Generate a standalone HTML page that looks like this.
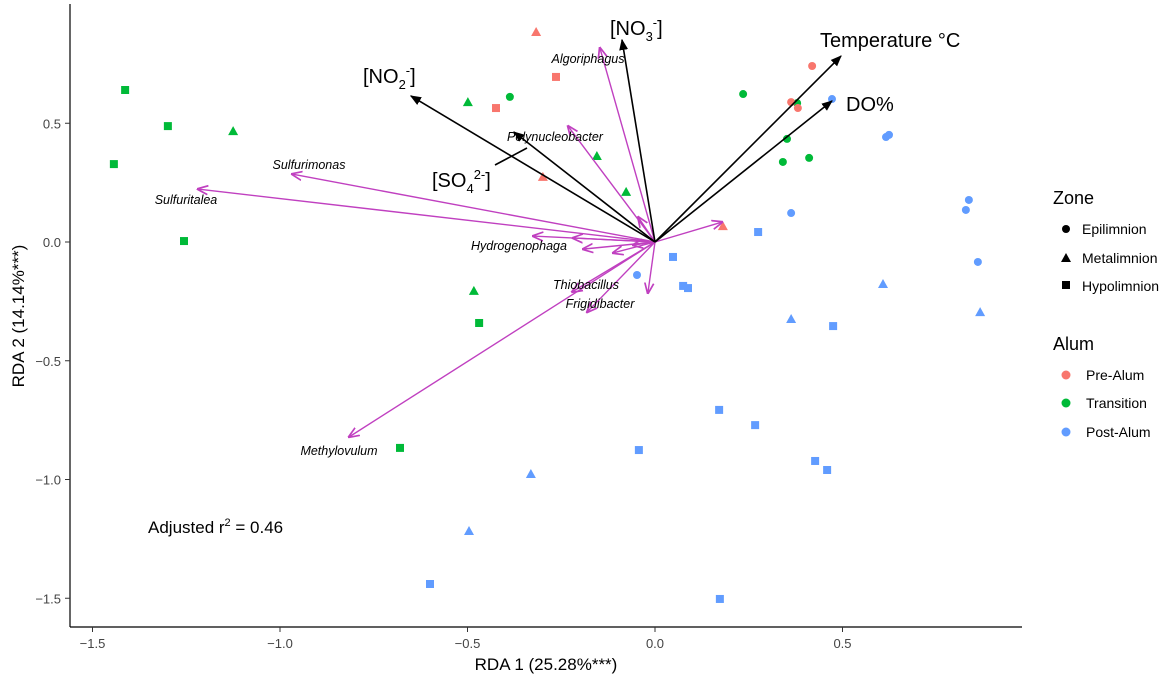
<!DOCTYPE html>
<html><head><meta charset="utf-8"><style>
body{margin:0;background:#fff;}
svg{display:block;font-family:"Liberation Sans",Arial,sans-serif;}
</style></head><body>
<svg id="chart" width="1169" height="682">
<defs>
<marker id="ab" viewBox="0 0 10 10" refX="9" refY="5" markerWidth="7" markerHeight="7" orient="auto"><path d="M0,1 L10,5 L0,9 z" fill="#000"/></marker>
<marker id="am" viewBox="0 0 10 10" refX="9" refY="5" markerWidth="8" markerHeight="8" orient="auto"><path d="M0,1 L10,5 L0,9" fill="none" stroke="#c040c0" stroke-width="1.5"/></marker>
</defs>
<g id="axes"></g>
<g id="marks"></g>
<text x="546" y="670" font-size="17" text-anchor="middle">RDA 1 (25.28%***)</text>
<text transform="translate(24,316) rotate(-90)" font-size="17" text-anchor="middle">RDA 2 (14.14%***)</text>
<text x="148" y="533" font-size="17">Adjusted r<tspan font-size="11" dy="-7">2</tspan><tspan dy="7"> = 0.46</tspan></text>
<g>
<text x="1053" y="204" font-size="18">Zone</text>
<circle cx="1066" cy="229" r="4" fill="#000"/>
<text x="1082" y="234" font-size="14">Epilimnion</text>
<path d="M1061,262 L1071,262 L1066,253 z" fill="#000"/>
<text x="1082" y="263" font-size="14">Metalimnion</text>
<rect x="1062" y="281" width="8" height="8" fill="#000"/>
<text x="1082" y="291" font-size="14">Hypolimnion</text>
</g>
<g>
<text x="1053" y="350" font-size="18">Alum</text>
<circle cx="1066" cy="375" r="4.5" fill="#F8766D"/>
<text x="1086" y="380" font-size="14">Pre-Alum</text>
<circle cx="1066" cy="403" r="4.5" fill="#00BA38"/>
<text x="1086" y="408" font-size="14">Transition</text>
<circle cx="1066" cy="432" r="4.5" fill="#619CFF"/>
<text x="1086" y="437" font-size="14">Post-Alum</text>
</g>
</svg>
<script>
const xTicks=[-1.5,-1.0,-0.5,0.0,0.5];
const yTicks=[0.5,0.0,-0.5,-1.0,-1.5];
const xTickLabels=["−1.5","−1.0","−0.5","0.0","0.5"];
const yTickLabels=["0.5","0.0","−0.5","−1.0","−1.5"];
const sampleX=[-1.413,-1.299,-1.125,-1.443,-1.256,-0.499,-0.387,-0.155,-0.077,-0.483,-0.469,-0.680,0.235,0.379,0.352,0.341,0.411,
 -0.317,-0.264,-0.424,-0.299,0.181,0.419,0.363,0.381,
 0.472,0.616,0.624,0.837,0.829,0.861,0.363,-0.048,0.275,0.048,0.075,0.088,0.363,0.475,0.608,0.867,0.171,0.267,-0.043,0.427,0.459,-0.331,-0.496,-0.600,0.173];
const sampleY=[0.640,0.488,0.467,0.328,0.004,0.589,0.611,0.362,0.211,-0.206,-0.341,-0.867,0.623,0.585,0.434,0.337,0.354,
 0.884,0.695,0.564,0.274,0.067,0.741,0.589,0.564,
 0.602,0.442,0.451,0.177,0.135,-0.084,0.122,-0.139,0.042,-0.063,-0.185,-0.194,-0.324,-0.354,-0.177,-0.295,-0.707,-0.771,-0.876,-0.922,-0.960,-0.977,-1.217,-1.440,-1.503];
const sampleZone=["H","H","M","H","H","M","E","M","M","M","H","H","E","E","E","E","E",
 "M","H","H","M","M","E","E","E",
 "E","E","E","E","E","E","E","E","H","H","H","H","M","H","M","M","H","H","H","H","H","M","M","H","H"];
const sampleAlum=["T","T","T","T","T","T","T","T","T","T","T","T","T","T","T","T","T",
 "P","P","P","P","P","P","P","P",
 "A","A","A","A","A","A","A","A","A","A","A","A","A","A","A","A","A","A","A","A","A","A","A","A","A"];
const envNames=["NO3","Temperature","DO","NO2","SO4"];
const envX=[-0.088,0.496,0.472,-0.651,-0.376];
const envY=[0.851,0.783,0.594,0.615,0.463];
const taxaX=[-0.968,-1.219,-0.816,-0.147,-0.232,-0.045,0.179,-0.325,-0.219,-0.192,-0.112,-0.059,-0.019,-0.181,-0.221];
const taxaY=[0.286,0.223,-0.821,0.817,0.488,0.105,0.084,0.025,0.017,-0.030,-0.046,-0.013,-0.215,-0.295,-0.210];

const sx=v=>655+v*375, sy=v=>242-v*237.5;
const NS="http://www.w3.org/2000/svg";
const axes=document.getElementById('axes'), marks=document.getElementById('marks');
function mk(tag,attrs,parent){const e=document.createElementNS(NS,tag);for(const k in attrs)e.setAttribute(k,attrs[k]);parent.appendChild(e);return e;}
let l=mk('line',{x1:70,y1:4,x2:70,y2:627,stroke:'#000','stroke-width':1.2},axes);


l=mk('line',{x1:70,y1:627,x2:1022,y2:627,stroke:'#000','stroke-width':1.2},axes);


xTicks.forEach((v,i)=>{const t=mk('line',{x1:sx(v),x2:sx(v),y1:627,y2:632,stroke:'#333'},axes);


const tx=mk('text',{x:sx(v),y:648,'font-size':13,'text-anchor':'middle',fill:'#444'},axes);tx.textContent=xTickLabels[i];

});
yTicks.forEach((v,i)=>{const t=mk('line',{x1:65,x2:70,y1:sy(v),y2:sy(v),stroke:'#333'},axes);


const tx=mk('text',{x:61,y:sy(v)+5,'font-size':13,'text-anchor':'end',fill:'#444'},axes);tx.textContent=yTickLabels[i];

});
const col={P:'#F8766D',T:'#00BA38',A:'#619CFF'};
sampleX.forEach((v,i)=>{const cx=sx(v),cy=sy(sampleY[i]),c=col[sampleAlum[i]];let e;
if(sampleZone[i]=='E')e=mk('circle',{cx:cx,cy:cy,r:4,fill:c},marks);
else if(sampleZone[i]=='M')e=mk('path',{d:`M${cx-5},${cy+4} L${cx+5},${cy+4} L${cx},${cy-5} z`,fill:c},marks);
else e=mk('rect',{x:cx-4,y:cy-4,width:8,height:8,fill:c},marks);

});
taxaX.forEach((v,i)=>{const a=mk('line',{x1:sx(0),y1:sy(0),x2:sx(v),y2:sy(taxaY[i]),stroke:'#c040c0','stroke-width':1.4,'marker-end':'url(#am)'},marks);

});
envX.forEach((v,i)=>{const a=mk('line',{x1:sx(0),y1:sy(0),x2:sx(v),y2:sy(envY[i]),stroke:'#000','stroke-width':1.6,'marker-end':'url(#ab)'},marks);

});
mk('line',{x1:527,y1:148,x2:495,y2:165,stroke:'#000','stroke-width':1.6},marks);
const tl=[["Sulfurimonas",309,169],["Sulfuritalea",186,204],["Hydrogenophaga",519,250],["Polynucleobacter",555,141],["Algoriphagus",588,63],["Thiobacillus",586,289],["Frigidibacter",600,308],["Methylovulum",339,455]];
tl.forEach(t=>{const e=mk('text',{x:t[1],y:t[2],'font-size':12.5,'font-style':'italic','text-anchor':'middle'},marks);e.textContent=t[0];

});
const el=[['[NO<tspan font-size="13" dy="6">3</tspan><tspan font-size="13" dy="-14">-</tspan><tspan dy="8">]</tspan>',610,35],
['Temperature °C',820,47],['DO%',846,111],
['[NO<tspan font-size="13" dy="6">2</tspan><tspan font-size="13" dy="-14">-</tspan><tspan dy="8">]</tspan>',363,83],
['[SO<tspan font-size="13" dy="6">4</tspan><tspan font-size="13" dy="-14">2-</tspan><tspan dy="8">]</tspan>',432,187]];
el.forEach(t=>{const e=mk('text',{x:t[1],y:t[2],'font-size':20},marks);e.innerHTML=t[0];

});
</script>
</body></html>
